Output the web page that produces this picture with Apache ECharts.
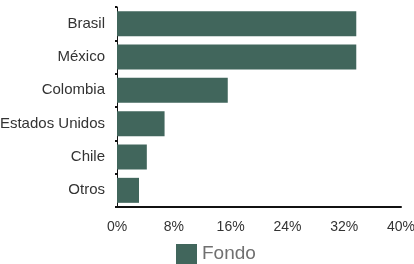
<!DOCTYPE html>
<html><head><meta charset="utf-8">
<script src="https://cdn.jsdelivr.net/npm/echarts@6/dist/echarts.min.js"></script>
<style>html,body{margin:0;padding:0;background:#fff}#c{width:414px;height:264px}</style>
</head><body><div id="c"></div>
<script>
const categories = ['Brasil', 'México', 'Colombia', 'Estados Unidos', 'Chile', 'Otros'];
const fondoValues = [33.7, 33.7, 15.6, 6.7, 4.2, 3.1];
const xTicks = { min: 0, max: 40, interval: 8 };
const seriesName = 'Fondo';

const chart = echarts.init(document.getElementById('c'), null, { renderer: 'canvas' });
chart.setOption({
  animation: false,
  textStyle: { fontFamily: 'Liberation Sans, Arial, sans-serif' },
  grid: { left: 117, right: 13, top: 7, bottom: 57, containLabel: false, outerBoundsMode: 'none' },
  legend: {
    data: [seriesName], left: 171, top: 239, itemWidth: 21, itemHeight: 20, itemGap: 5,
    icon: 'rect',
    textStyle: { fontSize: 19, color: '#707070', fontFamily: 'Liberation Sans, Arial, sans-serif' }
  },
  xAxis: {
    type: 'value', min: xTicks.min, max: xTicks.max, interval: xTicks.interval,
    splitLine: { show: false },
    axisLine: { show: true, lineStyle: { color: '#111', width: 2 } },
    axisTick: { show: false },
    axisLabel: { formatter: '{value}%', color: '#333', fontSize: 14, margin: 13 }
  },
  yAxis: {
    type: 'category', data: categories, inverse: true,
    axisLine: { show: true, lineStyle: { color: '#111', width: 1 } },
    axisTick: { show: true, length: 2, lineStyle: { color: '#111', width: 2 } },
    axisLabel: { color: '#333', fontSize: 15, margin: 12 }
  },
  series: [{
    name: seriesName, type: 'bar', data: fondoValues, barCategoryGap: '25%',
    itemStyle: { color: '#41665c' }
  }]
});
</script></body></html>
